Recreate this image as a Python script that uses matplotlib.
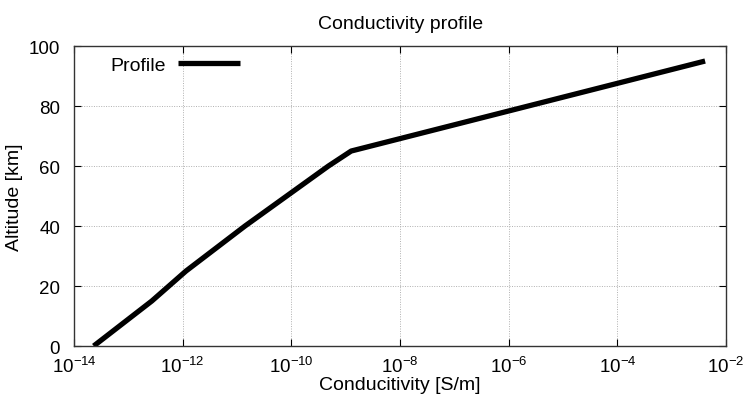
import matplotlib.pyplot as plt
from matplotlib.ticker import NullLocator

plt.rcParams['font.family'] = ['Liberation Sans', 'DejaVu Sans']

# conductivity profile
conductivity = [2.3e-14, 2.7e-13, 1.15e-12, 1.4e-11, 4.8e-10, 1.26e-9, 4.1e-3]
altitude = [0, 15, 25, 40, 60, 65, 95]

fig = plt.figure(figsize=(7.44, 4.02), dpi=100)
ax = fig.add_axes([0.0995, 0.1368, 0.8765, 0.7462])

ax.plot(conductivity, altitude, color='black', lw=3.8, label='Profile',
        solid_capstyle='butt')

ax.set_xscale('log')
ax.set_xlim(1e-14, 1e-2)
ax.set_ylim(0, 100)
ax.set_xticks([10.0 ** e for e in range(-14, -1, 2)])
ax.xaxis.set_minor_locator(NullLocator())
ax.set_yticks([0, 20, 40, 60, 80, 100])

ax.grid(True, color='#b0b0b0', linestyle=(0, (1, 1.5)), linewidth=0.7)
ax.tick_params(direction='in', length=5, width=0.8, top=True, right=True,
               labelsize=13.5)
ax.tick_params(axis='x', pad=7)
ax.tick_params(axis='y', pad=10)
for s in ax.spines.values():
    s.set_color('#333333')
    s.set_linewidth(1.0)

ax.set_xlabel('Conducitivity [S/m]', fontsize=14, labelpad=0)
ax.set_ylabel('Altitude [km]', fontsize=14, labelpad=4)
ax.set_title('Conductivity profile', fontsize=14, pad=13)

ax.legend(loc='upper left', bbox_to_anchor=(0.035, 1.01), frameon=False,
          markerfirst=False, handlelength=3.2, handletextpad=0.6,
          fontsize=14, borderaxespad=0.3)

fig.savefig('out.png', dpi=100)
